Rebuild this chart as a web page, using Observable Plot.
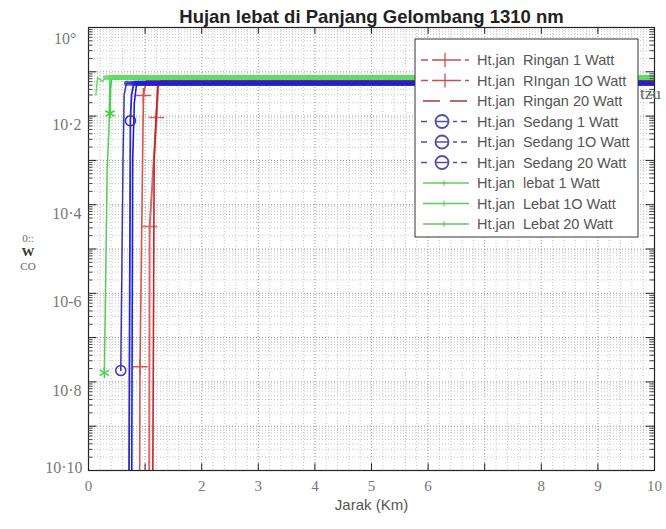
<!DOCTYPE html>
<html><head><meta charset="utf-8">
<script src="https://cdn.jsdelivr.net/npm/d3@7"></script>
<script src="https://cdn.jsdelivr.net/npm/@observablehq/plot@0.6"></script>
<style>body{margin:0;background:#fff;}</style>
</head><body><div id="chart"></div>
<script>
// ---- text ----
const title = "Hujan lebat di Panjang Gelombang 1310 nm";
const xLabel = "Jarak (Km)";
const yLabelLines = ["0::", "W", "CO"];
const strayText = "tzu";
const xTickValues = [0, 2, 3, 4, 5, 6, 8, 9, 10];
const xTickLabels = ["0", "2", "3", "4", "5", "6", "8", "9", "10"];
const yTickValues = [1, 1e-2, 1e-4, 1e-6, 1e-8, 1e-10];
const yTickLabels = ["10°", "10·2", "10·4", "10-6", "10·8", "10·10"];
const seriesNames = [
  "Ht.jan  Ringan 1 Watt", "Ht.jan  RIngan 1O Watt", "Ht.jan  Ringan 20 Watt",
  "Ht.jan  Sedang 1 Watt", "Ht.jan  Sedang 1O Watt", "Ht.jan  Sedang 20 Watt",
  "Ht.jan  lebat 1 Watt", "Ht.jan  Lebat 1O Watt", "Ht.jan  Lebat 20 Watt"
];

// ---- series values (distance km, BER) ----
const ringan1X = [0.90, 0.91, 0.97, 1.02, 10];
const ringan1Y = [1e-12, 2.2e-8, 0.029, 0.063, 0.063];
const ringan1Markers = [1, 2];
const ringan10X = [1.07, 1.08, 1.20, 1.24, 10];
const ringan10Y = [1e-12, 3.2e-5, 0.0093, 0.063, 0.063];
const ringan10Markers = [1, 2];
const ringan20X = [1.13, 1.16, 1.22, 1.27, 10];
const ringan20Y = [1e-12, 1e-3, 0.044, 0.063, 0.063];
const ringan20Markers = [];
const sedang1X = [0.57, 0.61, 0.63, 0.67, 10];
const sedang1Y = [1.8e-8, 1e-3, 0.03, 0.055, 0.055];
const sedang1Markers = [0];
const sedang10X = [0.71, 0.74, 0.76, 0.80, 10];
const sedang10Y = [1e-12, 0.0079, 0.03, 0.055, 0.055];
const sedang10Markers = [1];
const sedang20X = [0.76, 0.78, 0.81, 0.85, 10];
const sedang20Y = [1e-12, 1e-3, 0.02, 0.055, 0.055];
const sedang20Markers = [];
const lebat1X = [0.28, 0.33, 0.35, 0.36, 0.38, 10];
const lebat1Y = [1.6e-8, 5.9e-4, 0.0025, 0.0047, 0.074, 0.074];
const lebat1Markers = [0];
const lebat10X = [0.38, 0.39, 0.41, 10];
const lebat10Y = [0.0115, 0.04, 0.074, 0.074];
const lebat10Markers = [0];
const lebat20X = [0.13, 0.16, 0.25, 0.30, 10];
const lebat20Y = [0.03, 0.074, 0.06, 0.074, 0.074];
const lebat20Markers = [];

const series = [
  {xs: ringan1X, ys: ringan1Y, m: ringan1Markers, color: "#d9534f", w: 1.6, symbol: "plus", lc: "#c85050", kind: "redplus", tex: false},
  {xs: ringan10X, ys: ringan10Y, m: ringan10Markers, color: "#e06666", w: 2, symbol: "plus", lc: "#c85050", kind: "redplus", tex: false},
  {xs: ringan20X, ys: ringan20Y, m: ringan20Markers, color: "#b52a2a", w: 1.6, symbol: null, lc: "#a83838", kind: "reddash", tex: false},
  {xs: sedang1X, ys: sedang1Y, m: sedang1Markers, color: "#3535b5", w: 1.5, symbol: "circle", lc: "#5050a8", kind: "blue", tex: true},
  {xs: sedang10X, ys: sedang10Y, m: sedang10Markers, color: "#2a2ac8", w: 1.8, symbol: "circle", lc: "#5050a8", kind: "blue", tex: true},
  {xs: sedang20X, ys: sedang20Y, m: sedang20Markers, color: "#1f1fd0", w: 1.6, symbol: null, lc: "#5050a8", kind: "blue", tex: true},
  {xs: lebat1X, ys: lebat1Y, m: lebat1Markers, color: "#55cc55", w: 1.5, symbol: "asterisk", lc: "#60c860", kind: "green", tex: true},
  {xs: lebat10X, ys: lebat10Y, m: lebat10Markers, color: "#44cc44", w: 1.5, symbol: "asterisk", lc: "#60c860", kind: "green", tex: true},
  {xs: lebat20X, ys: lebat20Y, m: lebat20Markers, color: "#66dd66", w: 1.5, symbol: null, lc: "#60c860", kind: "green", tex: true}
];
series.forEach((s, k) => {
  s.name = seriesNames[k];
  s.rows = s.xs.map((x, i) => ({x, y: s.ys[i], marker: s.m.includes(i)}));
});

// grid helpers
const xMinor = d3.range(0, 10.001, 0.2);
const xMajor = d3.range(0, 11, 1);
const yDecades = d3.range(-10, 1).map(e => Math.pow(10, e));
const yMinor = d3.range(-10, 0).flatMap(e => d3.range(2, 10).map(m => m * Math.pow(10, e)));

const lineMarks = series.flatMap(s => {
  const marks = [Plot.line(s.rows, {x: "x", y: "y", stroke: s.color, strokeWidth: s.w, clip: true})];
  if (s.tex) {
    marks.push(Plot.line(s.rows.slice(-2), {x: "x", y: "y", stroke: s.color, strokeWidth: 5, strokeDasharray: "2,2", strokeOpacity: 0.8, clip: true}));
  }
  if (s.symbol) {
    marks.push(Plot.dot(s.rows.filter(d => d.marker), {x: "x", y: "y", symbol: s.symbol, r: 5, stroke: s.color, strokeWidth: 1.5, fill: "none"}));
  }
  return marks;
});

const serif = "Liberation Serif, Times New Roman, serif";
const sans = "Liberation Sans, Arial, sans-serif";

const chart = Plot.plot({
  width: 666, height: 529,
  marginLeft: 88, marginRight: 12, marginTop: 27, marginBottom: 59,
  x: {domain: [0, 10], axis: null},
  y: {type: "log", domain: [1e-10, 1], axis: null},
  style: {background: "white"},
  marks: [
    Plot.ruleX(xMinor, {stroke: "#c8c8c8", strokeDasharray: "1,2"}),
    Plot.ruleX(xMajor, {stroke: "#aaa", strokeDasharray: "1,2"}),
    Plot.ruleY(yMinor, {stroke: "#c8c8c8", strokeDasharray: "1,2"}),
    Plot.ruleY(yDecades, {stroke: "#999", strokeDasharray: "1,2"}),
    ...lineMarks,
    Plot.frame({stroke: "#222", strokeWidth: 1.2}),
    // ticks
    Plot.ruleX(xMajor, {y1: 1e-10, y2: Math.pow(10, -9.85), stroke: "#222"}),
    Plot.ruleX(xMajor, {y1: 1, y2: Math.pow(10, -0.15), stroke: "#222"}),
    Plot.ruleY(yDecades, {x1: 0, x2: 0.15, stroke: "#222"}),
    Plot.ruleY(yDecades, {x1: 9.85, x2: 10, stroke: "#222"}),
    Plot.ruleY(yMinor, {x1: 0, x2: 0.08, stroke: "#444"}),
    Plot.ruleY(yMinor, {x1: 9.92, x2: 10, stroke: "#444"}),
    // tick labels
    Plot.text(xTickValues, {x: d => d, text: (d, i) => xTickLabels[i], frameAnchor: "bottom", dy: 20, fontFamily: serif, fontSize: 15, fill: "#777"}),
    Plot.text(yTickValues.slice(1, -1), {y: d => d, text: (d, i) => yTickLabels[i + 1], frameAnchor: "left", dx: -7, dy: 9, textAnchor: "end", fontFamily: serif, fontSize: 16, fill: "#777"}),
    Plot.text(yTickValues.slice(0, 1), {y: d => d, text: () => yTickLabels[0], frameAnchor: "left", dx: -12, dy: 11, textAnchor: "end", fontFamily: serif, fontSize: 16, fill: "#777"}),
    Plot.text(yTickValues.slice(-1), {y: d => d, text: () => yTickLabels[yTickLabels.length - 1], frameAnchor: "left", dx: -6, dy: -3, textAnchor: "end", fontFamily: serif, fontSize: 16, fill: "#777"}),
    // labels
    Plot.text([xLabel], {frameAnchor: "bottom", dy: 39, fontFamily: sans, fontSize: 15, fill: "#555"}),
    Plot.text([title], {frameAnchor: "top", dy: -5, lineAnchor: "bottom", fontFamily: sans, fontSize: 18.5, fontWeight: "bold", fill: "#222"})
  ]
});

// y label fragments and stray text
const svg = d3.select(chart);
yLabelLines.forEach((t, i) => {
  svg.append("text").attr("x", 28).attr("y", 242 + i * 14).attr("text-anchor", "middle")
    .attr("font-family", serif).attr("font-size", i === 1 ? 13 : 11).attr("font-weight", i === 1 ? "bold" : "normal")
    .attr("fill", i === 1 ? "#333" : "#666").text(t);
});
svg.append("text").attr("x", 640).attr("y", 99).attr("text-anchor", "start").attr("font-family", serif).attr("font-size", 17)
  .attr("fill", "#4a6a6a").text(strayText);

// legend
const lg = svg.append("g").attr("transform", "translate(415,39)");
lg.append("rect").attr("width", 223).attr("height", 198).attr("fill", "white").attr("stroke", "#333").attr("stroke-width", 1);
series.forEach((s, k) => {
  const yy = 21 + k * 20.5;
  const g = lg.append("g").attr("transform", `translate(0,${yy})`);
  if (s.kind === "redplus") {
    g.append("line").attr("x1", 6).attr("x2", 54).attr("y1", 0).attr("y2", 0).attr("stroke", s.lc).attr("stroke-width", 1.5).attr("stroke-dasharray", "7,4");
    g.append("rect").attr("x", 22).attr("y", -7).attr("width", 16).attr("height", 14).attr("fill", "white");
    g.append("path").attr("d", "M21,0h18M30,-7v14").attr("stroke", s.lc).attr("stroke-width", 1.3);
  } else if (s.kind === "reddash") {
    g.append("line").attr("x1", 8).attr("x2", 55).attr("y1", 0).attr("y2", 0).attr("stroke", s.lc).attr("stroke-width", 1.5).attr("stroke-dasharray", "17,10");
  } else if (s.kind === "blue") {
    g.append("line").attr("x1", 6).attr("x2", 54).attr("y1", 0).attr("y2", 0).attr("stroke", s.lc).attr("stroke-width", 1.5).attr("stroke-dasharray", "6,4");
    g.append("rect").attr("x", 16).attr("y", -8).attr("width", 22).attr("height", 16).attr("fill", "white");
    g.append("circle").attr("cx", 27).attr("cy", 0).attr("r", 6.5).attr("fill", "none").attr("stroke", s.lc).attr("stroke-width", 1.8);
    g.append("line").attr("x1", 20.5).attr("x2", 33.5).attr("y1", 0).attr("y2", 0).attr("stroke", s.lc).attr("stroke-width", 1.5);
  } else {
    g.append("line").attr("x1", 8).attr("x2", 54).attr("y1", 0).attr("y2", 0).attr("stroke", s.lc).attr("stroke-width", 1.5);
    g.append("path").attr("d", "M29,-3v6M27,0h4").attr("stroke", s.lc).attr("stroke-width", 1);
  }
  g.append("text").attr("x", 62).attr("y", 0).attr("dy", "0.35em").attr("text-anchor", "start").attr("font-family", sans)
    .attr("font-size", 14.5).attr("fill", "#555").attr("xml:space", "preserve").style("white-space", "pre").text(s.name);
});

document.getElementById("chart").appendChild(chart);
</script>
</body></html>
